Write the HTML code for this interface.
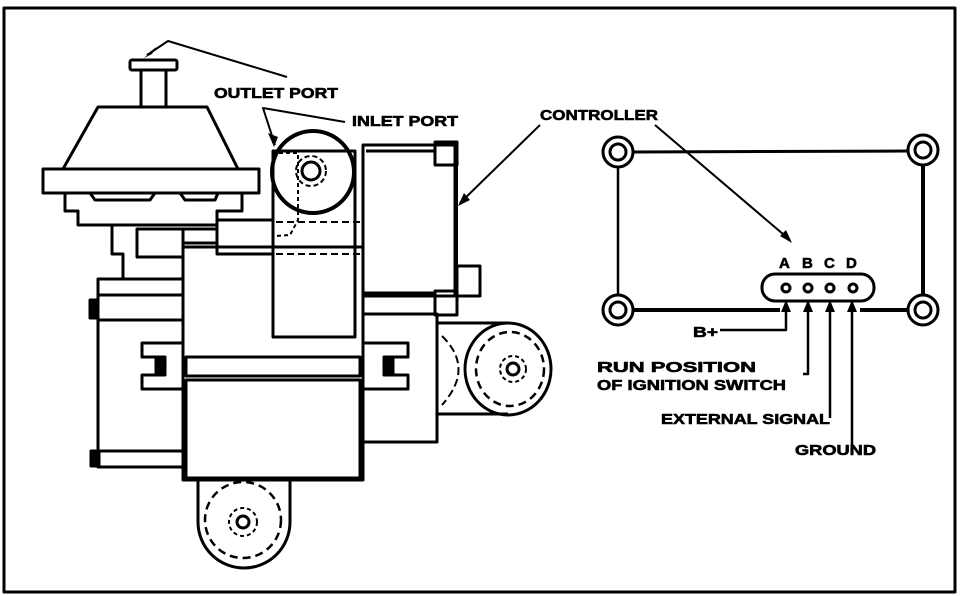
<!DOCTYPE html>
<html><head><meta charset="utf-8"><style>
html,body{margin:0;padding:0;background:#fff}
svg{display:block}
text{font-family:"Liberation Sans",sans-serif;font-weight:bold;font-size:15px;fill:#000;stroke:#000;stroke-width:0.6}
</style></head><body>
<svg width="960" height="596" viewBox="0 0 960 596" xmlns="http://www.w3.org/2000/svg">
<g fill="none" stroke="#000" stroke-width="3" stroke-linejoin="round">
<rect x="4" y="8" width="951" height="584"/>
<!-- vacuum cap -->
<rect x="130" y="60" width="47" height="10" rx="2"/>
<rect x="141" y="70" width="25" height="37"/>
<path d="M98 107 L207 107 L238 169 L63 169 Z"/>
<rect x="43" y="169" width="216" height="24"/>
<path d="M65 193 L65 211 L78 211 L78 225 L217 225 L217 211 L242 211 L242 193"/>
<path d="M90 193 L95 200 L150 200 L155 193 L180 193 L185 200 L215 200 L218 193"/>
<path d="M112 225 L112 254 L123 254 L123 279"/>
<rect x="137" y="229" width="46" height="28"/>
<rect x="183" y="229" width="34" height="14"/>
<rect x="217" y="220" width="56" height="34"/>
<!-- main left body -->
<rect x="98" y="279" width="85" height="188"/>
<line x1="98" y1="295" x2="183" y2="295"/>
<line x1="98" y1="320" x2="183" y2="320"/>
<line x1="98" y1="451" x2="183" y2="451"/>
<rect x="90" y="300" width="8" height="18" fill="#000"/>
<rect x="91" y="451" width="8" height="15" fill="#000"/>
<!-- central body -->
<rect x="183" y="247" width="180" height="233"/>
<rect x="186" y="357" width="174" height="19"/>
<rect x="186" y="380" width="174" height="98"/>
<rect x="273" y="151" width="82" height="186"/>
<circle cx="313" cy="172" r="41" stroke-width="4"/>
<circle cx="311" cy="171" r="9"/>
<circle cx="311" cy="171" r="15" stroke-dasharray="5 3" stroke-width="2"/>
<path d="M276 222 L362 222 M276 254 L362 254" stroke-dasharray="7 4" stroke-width="2"/>
<path d="M272 153 L298 153 L298 220 L290 235 L276 236" stroke-dasharray="4 3" stroke-width="2"/>
<!-- side brackets -->
<path d="M183 343 L142 343 L142 357 L165 357 L165 375 L142 375 L142 389 L183 389"/>
<path d="M363 343 L408 343 L408 357 L384 357 L384 375 L408 375 L408 389 L363 389"/>
<rect x="156" y="358" width="8" height="16" fill="#000"/>
<rect x="385" y="358" width="8" height="16" fill="#000"/>
<!-- controller box -->
<rect x="363" y="145" width="92" height="151"/>
<line x1="366" y1="151" x2="435" y2="151"/>
<rect x="435" y="142" width="22" height="23"/>
<rect x="363" y="293" width="72" height="21"/>
<rect x="435" y="291" width="22" height="24"/>
<rect x="457" y="266" width="23" height="30"/>
<line x1="456" y1="165" x2="456" y2="291" stroke-width="4"/>
<rect x="363" y="314" width="74" height="128"/>
<!-- right pulley -->
<path d="M437 323 L508 323 M437 414 L508 414"/>
<path d="M442 336 Q475 368 442 405" stroke-width="2" stroke-dasharray="8 4"/>
<ellipse cx="508" cy="369" rx="43" ry="46"/>
<ellipse cx="510" cy="369" rx="34" ry="37" stroke-dasharray="8 5" stroke-width="2.5"/>
<circle cx="513" cy="369" r="6"/>
<circle cx="513" cy="369" r="13" stroke-dasharray="4 3" stroke-width="2"/>
<!-- bottom pulley -->
<path d="M198 481 L198 522 M290 481 L290 522"/>
<path d="M198 522 A46 46 0 0 0 290 522"/>
<circle cx="243" cy="520" r="38" stroke-dasharray="8 5" stroke-width="2.5"/>
<circle cx="243" cy="522" r="6"/>
<circle cx="243" cy="522" r="14" stroke-dasharray="4 3" stroke-width="2"/>
<!-- leaders -->
<path d="M287 77 L168 41 L147 55" stroke-width="2"/>
<path d="M345 122 L263 108 L275 145" stroke-width="2"/>
<path d="M540 125 L460 203" stroke-width="2"/>
<!-- controller diagram -->
<circle cx="618" cy="152" r="15"/><circle cx="618" cy="152" r="8"/>
<circle cx="923" cy="150" r="15"/><circle cx="923" cy="150" r="8"/>
<circle cx="618" cy="310" r="15"/><circle cx="618" cy="310" r="8"/>
<circle cx="923" cy="310" r="15"/><circle cx="923" cy="310" r="8"/>
<line x1="633" y1="152" x2="908" y2="151"/>
<line x1="618" y1="167" x2="618" y2="295" stroke-width="2.5"/>
<line x1="923" y1="165" x2="923" y2="295" stroke-width="4"/>
<line x1="633" y1="310" x2="780" y2="310" stroke-width="4"/>
<line x1="860" y1="310" x2="908" y2="310" stroke-width="4"/>
<rect x="762" y="274" width="112" height="27" rx="13"/>
<circle cx="786" cy="288" r="4"/><circle cx="808" cy="288" r="4"/><circle cx="830" cy="288" r="4"/><circle cx="853" cy="288" r="4"/>
<path d="M655 125 L790 240" stroke-width="2"/>
<path d="M720 330 L786 330 L786 308 M808 308 L808 374 L803 374 M830 308 L830 418 M852 308 L852 448" stroke-width="2.5"/>
</g>
<g fill="#000">
<path d="M144 58 L156 47 L152 54 Z"/>
<path d="M274 147 L268 133 L278 137 Z"/>
<path d="M458 206 L464 193 L470 200 Z"/>
<path d="M792 243 L780 236 L786 230 Z"/>
<path d="M786 300 L781 312 L791 312 Z"/>
<path d="M808 300 L803 312 L813 312 Z"/>
<path d="M830 300 L825 312 L835 312 Z"/>
<path d="M852 300 L847 312 L857 312 Z"/>
</g>
<text x="214" y="98" textLength="124" lengthAdjust="spacingAndGlyphs">OUTLET PORT</text>
<text x="352" y="126" textLength="106" lengthAdjust="spacingAndGlyphs">INLET PORT</text>
<text x="540" y="120" textLength="118" lengthAdjust="spacingAndGlyphs">CONTROLLER</text>
<text x="779" y="268">A</text><text x="802" y="268">B</text><text x="824" y="268">C</text><text x="846" y="268">D</text>
<text x="693" y="337" textLength="25" lengthAdjust="spacingAndGlyphs">B+</text>
<text x="597" y="372" textLength="159" lengthAdjust="spacingAndGlyphs">RUN POSITION</text>
<text x="597" y="390" textLength="189" lengthAdjust="spacingAndGlyphs">OF IGNITION SWITCH</text>
<text x="661" y="424" textLength="169" lengthAdjust="spacingAndGlyphs">EXTERNAL SIGNAL</text>
<text x="795" y="455" textLength="81" lengthAdjust="spacingAndGlyphs">GROUND</text>
</svg>
</body></html>
